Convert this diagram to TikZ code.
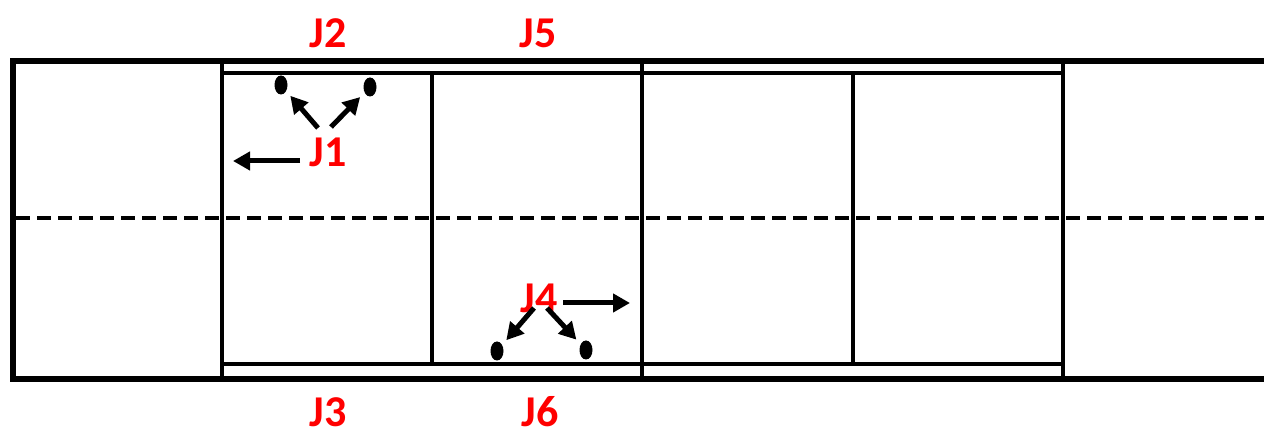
\documentclass[tikz,border=0pt]{standalone}
\usepackage{fontspec}
\setmainfont{Carlito}
\usetikzlibrary{arrows.meta,shapes.geometric}
\definecolor{lblred}{RGB}{255,0,0}
\tikzset{
  frame/.style={line width=2.6pt, line join=miter},
  wall/.style={line width=1.6pt},
  centreline/.style={line width=1.6pt, dash pattern=on 7pt off 3.5pt},
  lbl/.style={text=lblred, font=\fontsize{22}{22}\selectfont\bfseries, inner sep=0pt},
  dot/.style={ellipse, fill=black, minimum width=6.5pt, minimum height=9.5pt, inner sep=0pt},
  arr/.style={line width=2.5pt, -{Triangle[length=8.5pt, width=9pt]}},
}
\begin{document}
\begin{tikzpicture}[x=0.5pt, y=-0.5pt]
  \useasboundingbox (0,0) rectangle (1264,431);

  % outer boundary, open to the right
  \draw[frame] (1266,61) -- (13,61) -- (13,379) -- (1266,379);

  % inner rails along top and bottom
  \draw[wall] (222,73) -- (1063,73);
  \draw[wall] (222,364) -- (1063,364);

  % full-height dividers
  \draw[wall] (222,61) -- (222,379);
  \draw[wall] (642,61) -- (642,379);
  \draw[wall] (1063,61) -- (1063,379);
  % dividers between the rails
  \draw[wall] (432,73) -- (432,364);
  \draw[wall] (853,73) -- (853,364);

  % centre line
  \draw[centreline] (16,218) -- (1264,218);

  % labels
  \node[lbl] (J2) at (328,33) {J2};
  \node[lbl] (J5) at (538,33) {J5};
  \node[lbl] (J1) at (328,152) {J1};
  \node[lbl] (J4) at (539,298) {J4};
  \node[lbl] (J3) at (328,412) {J3};
  \node[lbl] (J6) at (540,412) {J6};

  % points
  \node[dot] (p1) at (281,85) {};
  \node[dot] (p2) at (370,87) {};
  \node[dot] (p3) at (497,351) {};
  \node[dot] (p4) at (586,350) {};

  % arrow ends
  \coordinate (a1) at (318,128);
  \coordinate (a2) at (331,127);
  \coordinate (a3) at (300,161);
  \coordinate (a3e) at (233,161);
  \coordinate (b1) at (534,308);
  \coordinate (b2) at (547,308);
  \coordinate (b3) at (563,303);
  \coordinate (b3e) at (630,303);

  % arrows
  \draw[arr, shorten >=3pt] (a1) -- (p1);
  \draw[arr, shorten >=3pt] (a2) -- (p2);
  \draw[arr] (a3) -- (a3e);
  \draw[arr, shorten >=3pt] (b1) -- (p3);
  \draw[arr, shorten >=3pt] (b2) -- (p4);
  \draw[arr] (b3) -- (b3e);
\end{tikzpicture}
\end{document}
